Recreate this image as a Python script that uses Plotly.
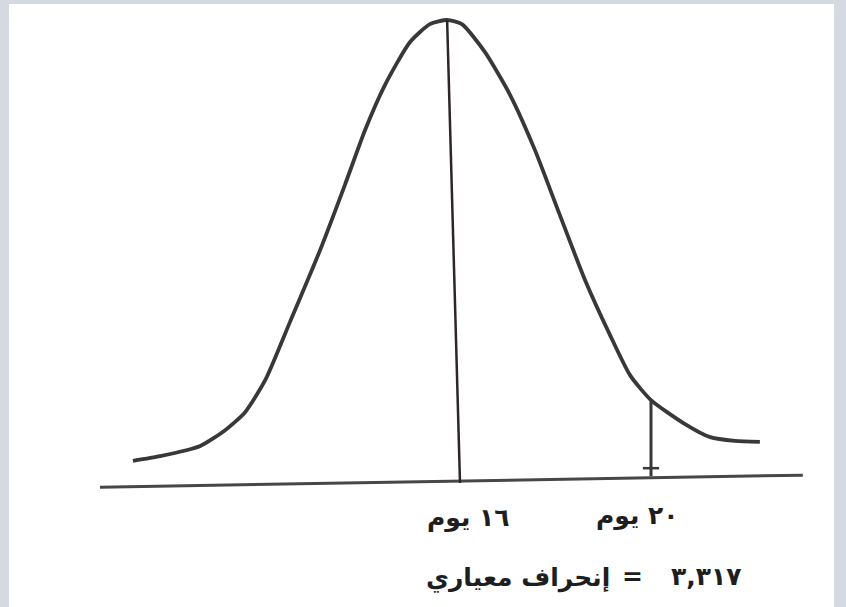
import plotly.graph_objects as go

# Hand-drawn bell curve (x in days, y as relative height, peak = 1)
curve_days = [9.15, 9.72, 10.56, 11.08, 11.50, 11.92, 12.44, 13.07, 13.59, 14.01, 14.43,
              14.95, 15.37, 15.73, 16.04, 16.52, 17.05, 17.57, 18.09, 18.62, 19.14,
              19.56, 20.00, 20.67, 21.24, 21.76, 22.28]
curve_height = [0.048, 0.058, 0.080, 0.114, 0.153, 0.222, 0.348, 0.503, 0.644, 0.762, 0.860,
                0.952, 0.991, 1.000, 0.991, 0.931, 0.838, 0.719, 0.579, 0.438, 0.320,
                0.233, 0.179, 0.130, 0.099, 0.091, 0.089]

mean_days = [15.73, 16.0]
mean_height = [1.0, 0.0]

mark_days = [20.0, 20.0]
mark_height = [0.179, 0.015]

tick_days = [19.83, 20.17]
tick_height = [0.032, 0.032]

base_days = [8.46, 23.18]
base_height = [-0.009, 0.017]

label_mean = "١٦ يوم"
label_mark = "٢٠ يوم"
label_sd_words = "إنحراف معياري"
label_sd_eq = "="
label_sd_value = "٣,٣١٧"

W, H = 846, 607
ink = "#383838"

fig = go.Figure()
fig.add_trace(go.Scatter(x=base_days, y=base_height, mode="lines",
                         line=dict(color="#474747", width=3), hoverinfo="skip"))
fig.add_trace(go.Scatter(x=curve_days, y=curve_height, mode="lines",
                         line=dict(color=ink, width=3.8, shape="spline", smoothing=0.6),
                         hoverinfo="skip"))
fig.add_trace(go.Scatter(x=mean_days, y=mean_height, mode="lines",
                         line=dict(color="#2e2626", width=2.5), hoverinfo="skip"))
fig.add_trace(go.Scatter(x=mark_days, y=mark_height, mode="lines",
                         line=dict(color=ink, width=3), hoverinfo="skip"))
fig.add_trace(go.Scatter(x=tick_days, y=tick_height, mode="lines",
                         line=dict(color=ink, width=2.5), hoverinfo="skip"))

fig.add_shape(type="rect", xref="paper", yref="paper",
              x0=9 / W, x1=834 / W, y0=0, y1=1 - 4 / H,
              fillcolor="white", line=dict(width=0), layer="below")

font = dict(family="DejaVu Sans", size=25, color="#1e1e1e", weight="bold")


def label(px, py, text):
    fig.add_annotation(x=px / W, y=1 - py / H, xref="paper", yref="paper",
                       xanchor="center", yanchor="middle",
                       text=text, showarrow=False, font=font)


label(468, 518, label_mean)
label(637, 516, label_mark)
label(518, 578, label_sd_words)
label(632, 576, label_sd_eq)
label(706, 576, label_sd_value)

fig.update_layout(
    width=W, height=H, autosize=False,
    margin=dict(l=0, r=0, t=0, b=0),
    paper_bgcolor="#d5d9e2", plot_bgcolor="rgba(0,0,0,0)",
    showlegend=False,
    xaxis=dict(range=[6.366, 24.084], visible=False, fixedrange=True),
    yaxis=dict(range=[-0.2678, 1.0432], visible=False, fixedrange=True),
)

fig.write_html("out.html", config={"displayModeBar": False})

# remove the browser's default page margin so the figure sits at (0, 0)
with open("out.html", encoding="utf-8") as f:
    page = f.read()
page = page.replace("<head>", "<head><style>html,body{margin:0;padding:0;overflow:hidden;}</style>", 1)
with open("out.html", "w", encoding="utf-8") as f:
    f.write(page)
